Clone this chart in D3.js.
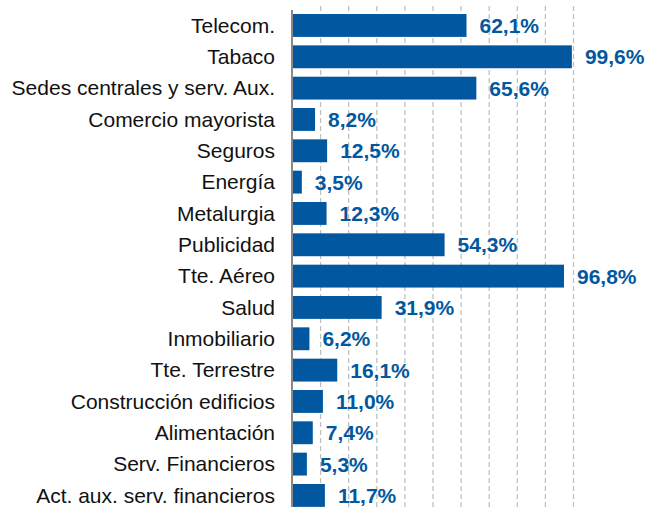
<!DOCTYPE html>
<html>
<head>
<meta charset="utf-8">
<script src="https://cdn.jsdelivr.net/npm/d3@7"></script>
<style>
  body { margin: 0; background: #fff; }
  svg { display: block; font-family: "Liberation Sans", Arial, sans-serif; }
  .grid line { stroke: #c0c0c0; stroke-width: 1.3; stroke-dasharray: 5,3; }
  .grid path { display: none; }
</style>
</head>
<body>
<div id="chart"></div>
<script>
// Categorias y valores (%)
var sectores = ["Telecom.", "Tabaco", "Sedes centrales y serv. Aux.", "Comercio mayorista",
  "Seguros", "Energía", "Metalurgia", "Publicidad", "Tte. Aéreo", "Salud", "Inmobiliario",
  "Tte. Terrestre", "Construcción edificios", "Alimentación", "Serv. Financieros",
  "Act. aux. serv. financieros"];
var valores = [62.1, 99.6, 65.6, 8.2, 12.5, 3.5, 12.3, 54.3, 96.8, 31.9, 6.2, 16.1, 11.0, 7.4, 5.3, 11.7];
var ticks = [10, 20, 30, 40, 50, 60, 70, 80, 90, 100];

var width = 654, height = 507;
var azul = "#0158a0";

var svg = d3.select("#chart").append("svg").attr("width", width).attr("height", height);

var x = d3.scaleLinear().domain([0, 100]).range([292, 573]);
var y = d3.scaleBand().domain(sectores).range([9.8, 511.1]).paddingInner(0.27).paddingOuter(0.135);

// lineas de rejilla
svg.append("g")
  .attr("class", "grid")
  .attr("transform", "translate(0,6)")
  .call(d3.axisBottom(x).tickValues(ticks).tickSize(height).tickFormat(""));

// barras
svg.selectAll(".bar")
  .data(valores)
  .enter().append("rect")
  .attr("class", "bar")
  .attr("x", x(0))
  .attr("y", function(d, i) { return y(sectores[i]); })
  .attr("width", function(d) { return x(d) - x(0); })
  .attr("height", y.bandwidth())
  .attr("fill", azul);

// eje vertical
svg.append("line")
  .attr("x1", x(0)).attr("x2", x(0))
  .attr("y1", 10).attr("y2", height)
  .attr("stroke", "#888").attr("stroke-width", 2);

// nombres de sectores
svg.selectAll(".cat")
  .data(sectores)
  .enter().append("text")
  .attr("class", "cat")
  .attr("x", 275)
  .attr("y", function(d) { return y(d) + y.bandwidth() / 2; })
  .attr("dy", "0.35em")
  .attr("text-anchor", "end")
  .attr("font-size", "21px")
  .attr("fill", "#111")
  .text(function(d) { return d; });

// etiquetas de valores
svg.selectAll(".val")
  .data(valores)
  .enter().append("text")
  .attr("class", "val")
  .attr("x", function(d) { return x(d) + 13; })
  .attr("y", function(d, i) { return y(sectores[i]) + y.bandwidth() / 2; })
  .attr("dy", "0.36em")
  .attr("font-size", "21px")
  .attr("font-weight", "bold")
  .attr("fill", azul)
  .text(function(d) { return d.toFixed(1).replace(".", ",") + "%"; });
</script>
</body>
</html>
